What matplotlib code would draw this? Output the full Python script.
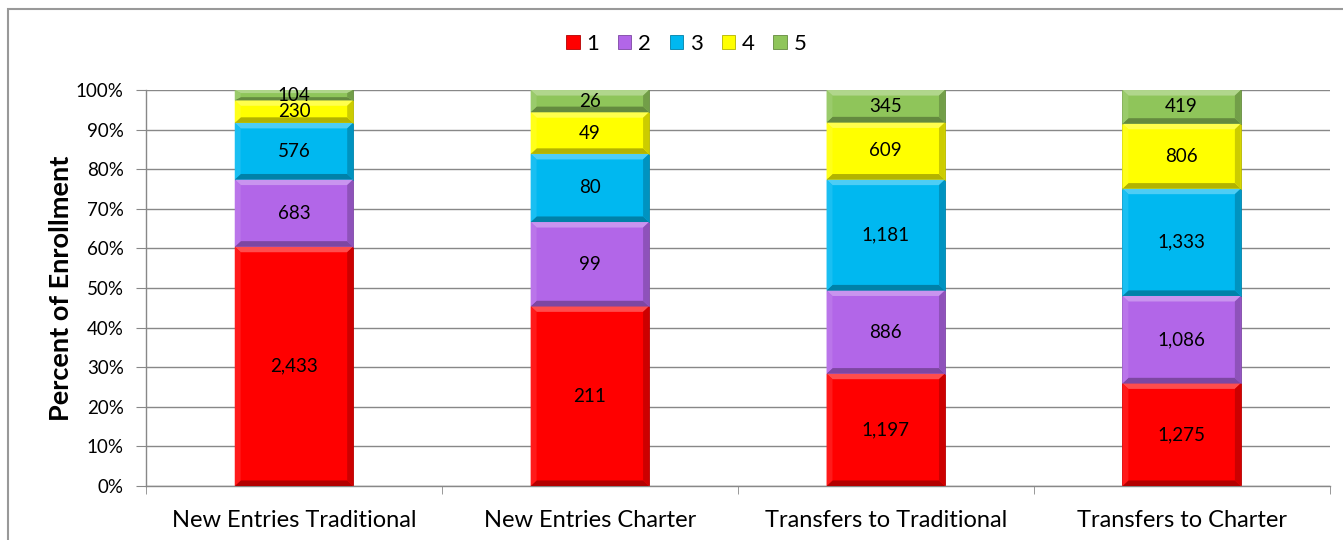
import numpy as np
import matplotlib.pyplot as plt
from matplotlib.patches import Polygon, Rectangle
from matplotlib.ticker import PercentFormatter
import matplotlib.colors as mcolors

plt.rcParams['font.family'] = ['Lato', 'DejaVu Sans']

# data
categories = ['New Entries Traditional', 'New Entries Charter',
              'Transfers to Traditional', 'Transfers to Charter']
levels = ['1', '2', '3', '4', '5']
counts = {
    '1': [2433, 211, 1197, 1275],
    '2': [683, 99, 886, 1086],
    '3': [576, 80, 1181, 1333],
    '4': [230, 49, 609, 806],
    '5': [104, 26, 345, 419],
}
colors = ['#FF0000', '#B266E8', '#00B8F0', '#FFFF00', '#8FC55A']

totals = np.sum([counts[k] for k in levels], axis=0)
x = np.arange(len(categories))
width = 0.4


def shade(c, f):
    r, g, b = mcolors.to_rgb(c)
    if f > 0:
        return (r + (1 - r) * f, g + (1 - g) * f, b + (1 - b) * f)
    return (r * (1 + f), g * (1 + f), b * (1 + f))


def bevel(ax, x0, y0, w, h, c):
    # fake the excel bevel: light top/left, dark bottom/right
    bx = 0.02
    by = min(0.014, h * 0.3)
    x1, y1 = x0 + w, y0 + h
    ax.add_patch(Polygon([(x0, y1), (x1, y1), (x1 - bx, y1 - by), (x0 + bx, y1 - by)],
                         closed=True, fc=shade(c, 0.3), ec='none', zorder=3))
    ax.add_patch(Polygon([(x0, y0), (x1, y0), (x1 - bx, y0 + by), (x0 + bx, y0 + by)],
                         closed=True, fc=shade(c, -0.3), ec='none', zorder=3))
    ax.add_patch(Polygon([(x0, y0), (x0, y1), (x0 + bx, y1 - by), (x0 + bx, y0 + by)],
                         closed=True, fc=shade(c, 0.1), ec='none', zorder=3))
    ax.add_patch(Polygon([(x1, y0), (x1, y1), (x1 - bx, y1 - by), (x1 - bx, y0 + by)],
                         closed=True, fc=shade(c, -0.2), ec='none', zorder=3))


fig = plt.figure(figsize=(13.43, 5.4), dpi=100)
ax = fig.add_axes([0.1087, 0.1, 0.8813, 0.7333])

bottom = np.zeros(len(categories))
for lvl, col in zip(levels, colors):
    vals = np.array(counts[lvl])
    frac = vals / totals
    bars = ax.bar(x, frac, width, bottom=bottom, color=col, edgecolor=shade(col, -0.3),
                  linewidth=0.6, zorder=2, label=lvl)
    for b in bars:
        bevel(ax, b.get_x(), b.get_y(), b.get_width(), b.get_height(), col)
    for xi, f, b0, v in zip(x, frac, bottom, vals):
        ax.text(xi, b0 + f / 2, f'{v:,}', ha='center', va='center', fontsize=13.5,
                color='black', zorder=4)
    bottom += frac

ax.set_xlim(-0.5, len(categories) - 0.5)
ax.set_ylim(0, 1)
ax.set_yticks(np.arange(0, 1.01, 0.1))
ax.yaxis.set_major_formatter(PercentFormatter(1.0, decimals=0))
ax.set_xticks(x)
ax.set_xticklabels(categories, fontsize=17)
ax.set_xticks(np.arange(-0.5, len(categories)), minor=True)
ax.tick_params(axis='x', which='major', length=0, pad=17)
ax.tick_params(axis='x', which='minor', length=6, direction='out', color='#888888')
ax.tick_params(axis='y', labelsize=13.5, length=7, direction='out', color='#888888', pad=9)
ax.grid(axis='y', color='#888888', linewidth=1, zorder=0)
for s in ['top', 'right']:
    ax.spines[s].set_visible(False)
for s in ['left', 'bottom']:
    ax.spines[s].set_color('#888888')
    ax.spines[s].set_linewidth(1)
ax.set_ylabel('Percent of Enrollment', fontsize=19.5, fontweight='bold', labelpad=2)

leg = fig.legend(*ax.get_legend_handles_labels(), loc='center',
                 bbox_to_anchor=(0.511, 1 - 44 / 540), ncol=5, frameon=False,
                 fontsize=16, handlelength=0.6, handleheight=0.6, handletextpad=0.3,
                 columnspacing=0.85)

# chart border
fig.add_artist(Rectangle((8 / 1343, -0.1), 1.2, 1 - 9 / 540 + 0.1,
                         transform=fig.transFigure, fill=False, ec='#999999', lw=1.5))

fig.savefig('out.png', dpi=100)
